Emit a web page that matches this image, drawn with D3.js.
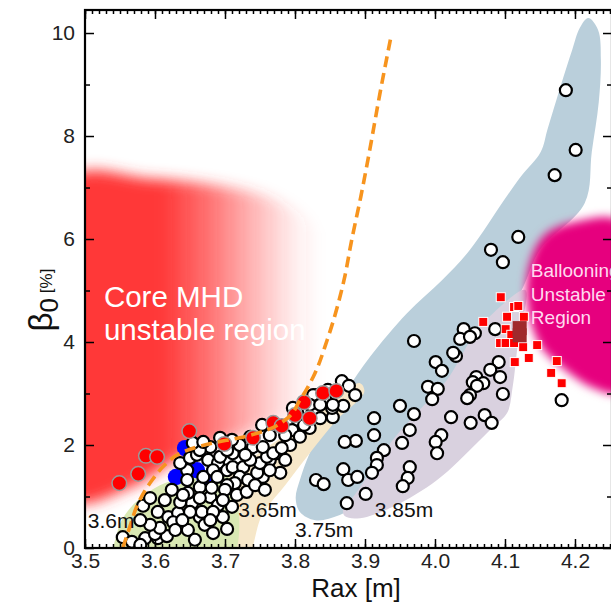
<!DOCTYPE html>
<html>
<head>
<meta charset="utf-8">
<script src="https://cdn.jsdelivr.net/npm/d3@7"></script>
<style>
  html, body { margin: 0; padding: 0; background: #fff; overflow: hidden; }
  svg { display: block; font-family: "Liberation Sans", Arial, Helvetica, sans-serif; }
</style>
</head>
<body>
<svg id="chart" width="611" height="603"></svg>
<script>
// ---- axis ticks ----
const xTicks = [3.5, 3.6, 3.7, 3.8, 3.9, 4.0, 4.1, 4.2];
const xTickLabels = ["3.5", "3.6", "3.7", "3.8", "3.9", "4.0", "4.1", "4.2"];
const yTicks = [0, 2, 4, 6, 8, 10];
const yTickLabels = ["0", "2", "4", "6", "8", "10"];
const yMinorTicks = [1, 3, 5, 7, 9];

// ---- discharges: [Rax (m), beta0 (%)] ----
const whiteShots = [
  [4.187, 8.89], [4.201, 7.73], [4.171, 7.24], [4.119, 6.04], [4.080, 5.79], [4.097, 5.55], [4.181, 2.87],
  [3.970, 4.02], [4.041, 4.25], [4.057, 4.17], [4.036, 4.06], [4.050, 4.10], [4.086, 4.25],
  [4.030, 3.73], [4.026, 3.79], [4.001, 3.61], [4.010, 3.44], [4.091, 3.61], [4.079, 3.46], [4.093, 3.32],
  [4.059, 3.32], [4.054, 3.22], [4.069, 3.20], [4.060, 3.15], [4.097, 2.99], [4.050, 2.97], [4.046, 2.91],
  [3.990, 3.13], [4.004, 3.09], [3.996, 2.89], [3.950, 2.76], [3.970, 2.60], [3.913, 2.52], [4.023, 2.54],
  [4.071, 2.58], [4.081, 2.43], [4.051, 2.43], [3.964, 2.29], [3.913, 2.19], [3.887, 2.08], [3.871, 2.06],
  [3.953, 2.04], [4.009, 2.19], [4.001, 2.06], [4.003, 1.84], [3.927, 1.90], [3.917, 1.75], [3.917, 1.61],
  [3.869, 1.53], [3.910, 1.46], [3.876, 1.32], [3.889, 1.38], [3.964, 1.57], [3.961, 1.36], [3.954, 1.20],
  [3.830, 1.32], [3.841, 1.24], [3.901, 1.05], [3.874, 0.87],
  [3.867, 3.24], [3.877, 3.15], [3.886, 2.97], [3.869, 2.76], [3.854, 2.54], [3.836, 2.52], [3.821, 2.54],
  [3.803, 2.64], [3.831, 2.97], [3.843, 2.91], [3.853, 2.72], [3.796, 2.29], [3.779, 1.46], [3.774, 1.84],
  [3.764, 1.71], [3.847, 3.07], [3.826, 2.97], [3.821, 2.33], [3.807, 2.16], [3.793, 2.00], [3.804, 2.49],
  [3.821, 2.78], [3.797, 2.72], [3.836, 2.78], [3.813, 2.39], [3.786, 2.19], [3.754, 1.38], [3.854, 2.78],
  [3.764, 2.19], [3.736, 2.16],
  [3.583, 0.82], [3.554, 0.21], [3.567, 0.12], [3.586, 0.19], [3.604, 0.19], [3.617, 0.23], [3.604, 0.70],
  [3.619, 0.60], [3.633, 0.68], [3.647, 0.35], [3.664, 0.60], [3.671, 0.45], [3.683, 0.29], [3.703, 0.37],
  [3.710, 0.80], [3.697, 0.60], [3.653, 0.87], [3.636, 0.89], [3.624, 1.13], [3.647, 1.07], [3.664, 1.18],
  [3.679, 0.99], [3.690, 0.83], [3.664, 0.97], [3.669, 1.38], [3.646, 1.51], [3.636, 1.65], [3.650, 1.75],
  [3.660, 1.81], [3.676, 1.71], [3.690, 1.65], [3.683, 1.51], [3.703, 1.51], [3.711, 1.57], [3.726, 1.57],
  [3.721, 1.38], [3.733, 1.32], [3.746, 1.46], [3.750, 1.65], [3.764, 1.51], [3.760, 1.77], [3.736, 1.71],
  [3.711, 1.84], [3.693, 1.77], [3.679, 1.96], [3.664, 1.90], [3.654, 2.04], [3.669, 2.06], [3.703, 1.90],
  [3.721, 2.00], [3.740, 1.96], [3.754, 1.96], [3.769, 1.84], [3.753, 2.39], [3.714, 1.26], [3.703, 1.22],
  [3.689, 1.38], [3.700, 1.13], [3.717, 1.03], [3.731, 1.09], [3.646, 1.32], [3.600, 0.27], [3.626, 0.50],
  [3.667, 0.70], [3.683, 0.70], [3.650, 0.70], [3.640, 1.03], [3.681, 1.17], [3.697, 0.93], [3.607, 0.39],
  [3.593, 0.45], [3.579, 0.54], [3.629, 0.35], [3.657, 0.16], [3.639, 0.54], [3.679, 0.54], [3.729, 1.81],
  [3.743, 1.22], [3.757, 1.13], [3.786, 1.71], [3.781, 1.94], [3.693, 2.14], [3.710, 2.10], [3.593, 0.97],
  [3.614, 0.93], [3.579, 0.06]
];
const redShots = [
  [3.549, 1.26], [3.576, 1.44], [3.587, 1.79], [3.603, 1.77], [3.649, 2.27], [3.699, 2.02], [3.740, 2.14],
  [3.769, 2.43], [3.781, 2.37], [3.800, 2.58], [3.813, 2.83], [3.821, 2.52], [3.840, 3.01], [3.859, 3.05]
];
const blueShots = [[3.643, 1.94], [3.630, 1.38], [3.671, 1.28], [3.660, 1.51]];
const redSquares = [
  [4.094, 4.87], [4.113, 4.68], [4.127, 4.49], [4.103, 4.49], [4.069, 4.39], [4.101, 4.25], [4.109, 4.14],
  [4.093, 3.98], [4.101, 3.98], [4.113, 3.98], [4.126, 3.90], [4.146, 3.94], [4.134, 3.69], [4.114, 3.61],
  [4.174, 3.63], [4.166, 3.40], [4.181, 3.20], [4.119, 4.70]
];
const darkSquares = [[4.121, 4.27], [4.121, 4.13]];

// ---- stability boundary (dashed) ----
const stabilityLimit = [
  [3.554, 0], [3.564, 0.41], [3.576, 0.87], [3.596, 1.32], [3.617, 1.65], [3.636, 1.84], [3.660, 1.96],
  [3.683, 2.04], [3.721, 2.14], [3.760, 2.29], [3.789, 2.52], [3.807, 2.87], [3.826, 3.32], [3.846, 4.04],
  [3.870, 5.20], [3.881, 5.98], [3.894, 6.82], [3.906, 7.67], [3.921, 8.80], [3.937, 9.92]
];

// ---- regions (outlines in Rax, beta0) ----
const coreUnstableRegion = [
  [3.479, 7.18], [3.593, 7.17], [3.693, 7.03], [3.764, 6.80], [3.821, 6.33], [3.854, 5.50], [3.867, 4.43],
  [3.857, 3.36], [3.821, 2.78], [3.736, 2.25], [3.636, 1.75], [3.564, 1.17], [3.479, 0.93]
];
const ballooningRegion = [
  [4.131, 4.82], [4.136, 5.55], [4.157, 6.08], [4.200, 6.33], [4.264, 6.33], [4.264, 3.03],
  [4.226, 3.11], [4.186, 3.46], [4.150, 3.94]
];
const band375 = [
  [4.219, 10.29], [4.233, 10.06], [4.237, 9.48], [4.234, 8.66], [4.224, 7.69], [4.214, 6.70], [4.150, 5.79],
  [4.126, 5.07], [4.093, 4.23], [4.036, 2.87], [3.979, 1.90], [3.921, 1.13], [3.864, 0.64], [3.829, 0.54],
  [3.807, 0.70], [3.801, 0.97], [3.807, 1.32], [3.821, 1.84], [3.846, 2.49], [3.874, 3.07], [3.907, 3.71],
  [3.960, 4.56], [4.010, 5.20], [4.050, 5.79], [4.099, 6.76], [4.123, 7.22], [4.151, 7.69], [4.161, 8.14],
  [4.180, 8.99], [4.196, 9.67], [4.207, 10.10]
];
const band385 = [
  [4.129, 5.01], [4.119, 4.04], [4.111, 3.13], [4.103, 2.62], [4.083, 2.35], [4.060, 2.04], [4.003, 1.32],
  [3.940, 0.80], [3.893, 0.58], [3.871, 0.62], [3.869, 0.78], [3.883, 0.99], [3.907, 1.46], [3.940, 2.10],
  [3.974, 2.62], [4.017, 3.26], [4.054, 4.10], [4.083, 4.56]
];
const band365 = [
  [3.704, -0.3], [3.703, 1.36], [3.750, 1.86], [3.807, 2.39], [3.864, 2.97], [3.893, 3.20], [3.899, 3.03],
  [3.860, 2.49], [3.821, 1.84], [3.786, 1.22], [3.753, 0.64], [3.729, -0.3]
];
const band360 = [
  [3.544, -0.3], [3.547, 0.35], [3.557, 0.64], [3.576, 0.93], [3.607, 1.22], [3.643, 1.36], [3.704, 1.40],
  [3.707, -0.3]
];

// ---- layout ----
const L = 85, R = 612, T = 10, B = 548;
const x = d3.scaleLinear().domain([3.5, 4.2529]).range([L, R]);
const y = d3.scaleLinear().domain([0, 10.447]).range([B, T]);

const svg = d3.select("#chart");
const defs = svg.append("defs");

defs.append("clipPath").attr("id", "plotClip")
  .append("rect").attr("x", L).attr("y", T).attr("width", R - L).attr("height", B - T);

const blurRed = defs.append("filter").attr("id", "blurRed")
  .attr("x", "-30%").attr("y", "-30%").attr("width", "160%").attr("height", "160%");
blurRed.append("feGaussianBlur").attr("stdDeviation", 7);
const blurPink = defs.append("filter").attr("id", "blurPink")
  .attr("x", "-30%").attr("y", "-30%").attr("width", "160%").attr("height", "160%");
blurPink.append("feGaussianBlur").attr("stdDeviation", 5);

const redGrad = defs.append("linearGradient").attr("id", "redGrad")
  .attr("gradientUnits", "userSpaceOnUse")
  .attr("x1", x(3.5)).attr("x2", x(3.835)).attr("y1", 0).attr("y2", 0);
[[0, 1], [0.33, 1], [0.52, 0.72], [0.72, 0.36], [0.88, 0.1], [1, 0]].forEach(([o, a]) =>
  redGrad.append("stop").attr("offset", o).attr("stop-color", "#ff3838").attr("stop-opacity", a));

const area = d3.line().x(d => x(d[0])).y(d => y(d[1])).curve(d3.curveCatmullRomClosed.alpha(0.5));

const plot = svg.append("g").attr("clip-path", "url(#plotClip)");

plot.append("path").datum(coreUnstableRegion).attr("d", area)
  .attr("fill", "url(#redGrad)").attr("filter", "url(#blurRed)");
plot.append("path").datum(band375).attr("d", area).attr("fill", "#bacfdb");
plot.append("path").datum(band385).attr("d", area).attr("fill", "#d9d1df");
plot.append("path").datum(band365).attr("d", area).attr("fill", "#f6e7c9");
plot.append("path").datum(band360).attr("d", area).attr("fill", "#d9e8b3");
plot.append("path").datum(ballooningRegion).attr("d", area)
  .attr("fill", "#e6007e").attr("filter", "url(#blurPink)");

// region captions
const caption = plot.append("g").attr("fill", "#fff").attr("font-size", 29.5);
caption.append("text").attr("x", x(3.527)).attr("y", y(4.68)).text("Core MHD");
caption.append("text").attr("x", x(3.527)).attr("y", y(4.04)).text("unstable region");

const ball = plot.append("g").attr("fill", "#ffd9ef").attr("font-size", 19);
ball.append("text").attr("x", x(4.137)).attr("y", y(5.26)).text("Ballooning");
ball.append("text").attr("x", x(4.137)).attr("y", y(4.80)).text("Unstable");
ball.append("text").attr("x", x(4.137)).attr("y", y(4.35)).text("Region");

// discharges
plot.append("g").selectAll("circle").data(blueShots).join("circle")
  .attr("cx", d => x(d[0])).attr("cy", d => y(d[1])).attr("r", 8.2)
  .attr("fill", "#0000ff");
plot.append("g").selectAll("circle").data(whiteShots).join("circle")
  .attr("cx", d => x(d[0])).attr("cy", d => y(d[1])).attr("r", 6)
  .attr("fill", "#fff").attr("stroke", "#000").attr("stroke-width", 2.2);
plot.append("g").selectAll("circle").data(redShots).join("circle")
  .attr("cx", d => x(d[0])).attr("cy", d => y(d[1])).attr("r", 7.3)
  .attr("fill", "#ff0000").attr("stroke", "#9a9a9a").attr("stroke-width", 1.5);
plot.append("g").selectAll("rect").data(redSquares).join("rect")
  .attr("x", d => x(d[0]) - 4.5).attr("y", d => y(d[1]) - 4.5).attr("width", 9).attr("height", 9)
  .attr("fill", "#ff0000").attr("stroke", "#fff").attr("stroke-width", 1);
plot.append("g").selectAll("rect").data(darkSquares).join("rect")
  .attr("x", d => x(d[0]) - 7).attr("y", d => y(d[1]) - 7).attr("width", 14).attr("height", 14)
  .attr("fill", "#a02a2c");

// stability boundary
plot.append("path").datum(stabilityLimit)
  .attr("d", d3.line().x(d => x(d[0])).y(d => y(d[1])).curve(d3.curveMonotoneY))
  .attr("fill", "none").attr("stroke", "#f7941e").attr("stroke-width", 3.6)
  .attr("stroke-dasharray", "11,6");

// axis-position labels
const rl = svg.append("g").attr("fill", "#111").attr("font-size", 21);
rl.append("text").attr("x", x(3.504)).attr("y", y(0.39)).text("3.6m");
rl.append("text").attr("x", x(3.719)).attr("y", y(0.60)).text("3.65m");
rl.append("text").attr("x", x(3.800)).attr("y", y(0.21)).text("3.75m");
rl.append("text").attr("x", x(3.914)).attr("y", y(0.60)).text("3.85m");

// ---- axes ----
const xMinor = d3.range(350, 426).map(v => v / 100);
function styleAxis(g) {
  g.select(".domain").remove();
  g.selectAll(".tick line").attr("stroke", "#000").attr("stroke-width", 1.5);
  g.selectAll("text").attr("font-size", 21).attr("fill", "#222")
    .attr("font-family", "Liberation Sans, Arial, sans-serif");
}
svg.append("g").attr("transform", `translate(0,${B})`)
  .call(d3.axisBottom(x).tickValues(xMinor).tickSize(-4).tickFormat("")).call(styleAxis);
svg.append("g").attr("transform", `translate(0,${B})`)
  .call(d3.axisBottom(x).tickValues(xTicks).tickSize(-9).tickPadding(5)
    .tickFormat((d, i) => xTickLabels[i])).call(styleAxis);
svg.append("g").attr("transform", `translate(0,${T})`)
  .call(d3.axisTop(x).tickValues(xMinor).tickSize(-4).tickFormat("")).call(styleAxis);
svg.append("g").attr("transform", `translate(0,${T})`)
  .call(d3.axisTop(x).tickValues(xTicks).tickSize(-9).tickFormat("")).call(styleAxis);
svg.append("g").attr("transform", `translate(${L},0)`)
  .call(d3.axisLeft(y).tickValues(yMinorTicks).tickSize(-5).tickFormat("")).call(styleAxis);
svg.append("g").attr("transform", `translate(${L},0)`)
  .call(d3.axisLeft(y).tickValues(yTicks).tickSize(-9).tickPadding(10)
    .tickFormat((d, i) => yTickLabels[i])).call(styleAxis);
svg.append("g").attr("transform", `translate(${R},0)`)
  .call(d3.axisRight(y).tickValues(yMinorTicks).tickSize(-5).tickFormat("")).call(styleAxis);
svg.append("g").attr("transform", `translate(${R},0)`)
  .call(d3.axisRight(y).tickValues(yTicks).tickSize(-9).tickFormat("")).call(styleAxis);

svg.append("rect").attr("x", L).attr("y", T).attr("width", R - L).attr("height", B - T)
  .attr("fill", "none").attr("stroke", "#000").attr("stroke-width", 2.2);

// axis titles
svg.append("text").attr("x", 356).attr("y", 597).attr("text-anchor", "middle")
  .attr("font-size", 26).attr("fill", "#111").text("Rax [m]");
const yt = svg.append("text").attr("transform", "translate(52,300) rotate(-90)")
  .attr("text-anchor", "middle").attr("fill", "#111");
yt.append("tspan").attr("font-size", 33).text("β");
yt.append("tspan").attr("font-size", 26).attr("dy", 6).text("0");
yt.append("tspan").attr("font-size", 17).attr("dy", -6).text(" [%]");
</script>
</body>
</html>
